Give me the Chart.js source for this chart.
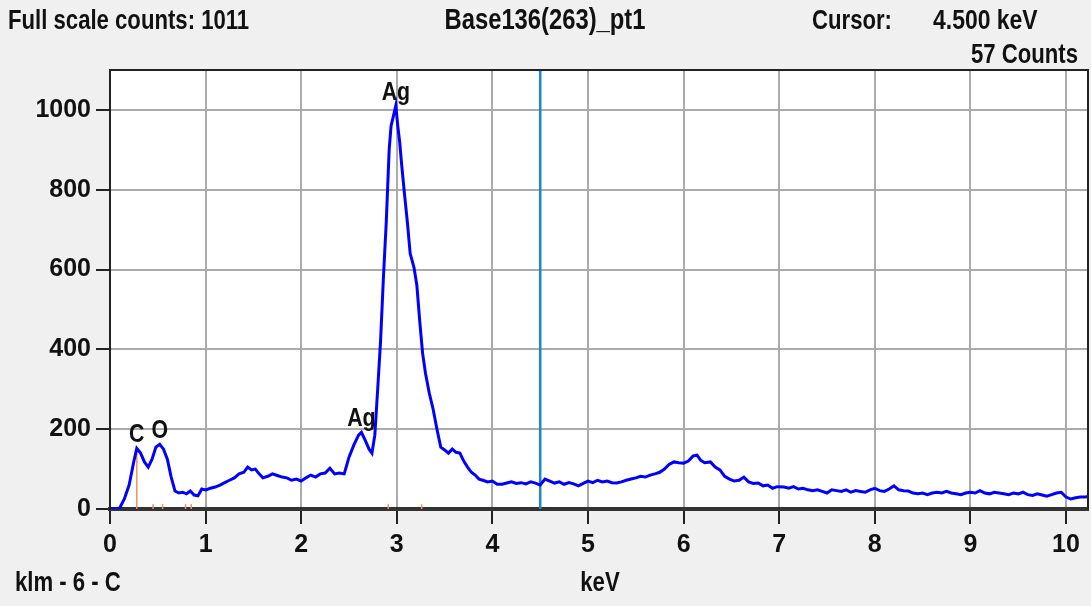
<!DOCTYPE html>
<html>
<head>
<meta charset="utf-8">
<script src="https://cdn.jsdelivr.net/npm/chart.js"></script>
<style>
  html, body { margin: 0; padding: 0; background: #f0f0f0; }
  canvas { display: block; }
</style>
</head>
<body>
<canvas id="graph" width="1091" height="606"></canvas>
<script>
// spectrum (keV / counts)
const energies = [
  0.00, 0.05, 0.10, 0.15, 0.20, 0.25, 0.28, 0.32, 0.36, 0.40, 0.44, 0.48, 0.52, 0.56, 0.60, 0.64, 0.68, 0.72, 0.76, 0.80,
  0.84, 0.88, 0.92, 0.96, 1.00, 1.05, 1.10, 1.15, 1.20, 1.25, 1.30, 1.35, 1.40, 1.44, 1.48, 1.52, 1.56, 1.60, 1.65, 1.70,
  1.75, 1.80, 1.85, 1.90, 1.95, 2.00, 2.05, 2.10, 2.15, 2.20, 2.25, 2.30, 2.35, 2.40, 2.45, 2.50, 2.55, 2.60, 2.63, 2.67,
  2.71, 2.74, 2.77, 2.80, 2.83, 2.86, 2.89, 2.92, 2.94, 2.97, 2.99, 3.01, 3.03, 3.05, 3.08, 3.11, 3.14, 3.18, 3.21, 3.24,
  3.27, 3.30, 3.34, 3.38, 3.42, 3.46, 3.50, 3.54, 3.58, 3.62, 3.66, 3.70, 3.74, 3.78, 3.82, 3.86, 3.90, 3.95, 4.00, 4.05,
  4.10, 4.15, 4.20, 4.25, 4.30, 4.35, 4.40, 4.45, 4.50, 4.55, 4.60, 4.65, 4.70, 4.75, 4.80, 4.85, 4.90, 4.95, 5.00, 5.05,
  5.10, 5.15, 5.20, 5.25, 5.30, 5.35, 5.40, 5.45, 5.50, 5.55, 5.60, 5.65, 5.70, 5.75, 5.80, 5.85, 5.90, 5.95, 6.00, 6.05,
  6.10, 6.14, 6.18, 6.22, 6.28, 6.33, 6.38, 6.43, 6.48, 6.53, 6.58, 6.63, 6.68, 6.73, 6.78, 6.83, 6.88, 6.93, 6.98, 7.05,
  7.10, 7.15, 7.20, 7.25, 7.30, 7.35, 7.40, 7.45, 7.50, 7.55, 7.60, 7.65, 7.70, 7.75, 7.80, 7.85, 7.90, 7.95, 8.00, 8.05,
  8.10, 8.15, 8.20, 8.25, 8.30, 8.35, 8.40, 8.45, 8.50, 8.55, 8.60, 8.65, 8.70, 8.75, 8.80, 8.85, 8.90, 8.95, 9.00, 9.05,
  9.10, 9.15, 9.20, 9.25, 9.30, 9.35, 9.40, 9.45, 9.50, 9.55, 9.60, 9.65, 9.70, 9.75, 9.80, 9.85, 9.90, 9.95, 10.00, 10.05,
  10.10, 10.15, 10.20, 10.25
];
const counts = [
  0, 0, 2, 25, 60, 120, 152, 140, 118, 105, 125, 155, 162, 150, 125, 80, 45, 40, 42, 38,
  45, 35, 33, 50, 48, 52, 55, 60, 66, 72, 78, 88, 92, 105, 98, 100, 88, 78, 82, 88,
  84, 80, 78, 72, 75, 70, 78, 85, 80, 88, 90, 102, 88, 90, 88, 130, 160, 185, 192, 172,
  150, 140, 185, 300, 420, 580, 720, 900, 960, 990, 1011, 960, 920, 865, 790, 720, 640, 605, 560, 470,
  390, 340, 290, 250, 200, 155, 148, 140, 150, 142, 140, 120, 105, 92, 85, 75, 72, 68, 70, 62,
  62, 65, 68, 64, 66, 63, 68, 65, 60, 75, 70, 65, 68, 62, 66, 63, 58, 64, 70, 66,
  72, 68, 70, 66, 65, 68, 72, 75, 78, 82, 80, 85, 88, 92, 100, 112, 118, 116, 115, 120,
  133, 135, 122, 116, 118, 105, 98, 82, 75, 70, 72, 80, 68, 64, 65, 58, 60, 52, 56, 55,
  52, 56, 50, 52, 48, 46, 48, 44, 40, 48, 46, 44, 48, 42, 46, 44, 42, 48, 52, 46,
  44, 50, 58, 48, 46, 45, 40, 38, 40, 36, 40, 42, 40, 44, 40, 38, 36, 40, 42, 40,
  46, 40, 38, 42, 40, 38, 36, 40, 38, 42, 36, 34, 38, 35, 32, 36, 40, 42, 30, 25,
  28, 30, 30, 32
];

// element marker lines (orange) and peak labels
const markerKeV = [0.28, 0.45, 0.55, 0.79, 0.85, 2.91, 3.26];
const markerHeight = [152, 12, 12, 12, 12, 12, 12];
const peakNames = ['C', 'O', 'Ag', 'Ag'];
const peakKeV = [0.28, 0.52, 2.63, 2.99];

const xTicks = [0, 1, 2, 3, 4, 5, 6, 7, 8, 9, 10];
const yTicks = [0, 200, 400, 600, 800, 1000];
const cursorKeV = 4.5;
const cursorCounts = 57;

const FONT = '"Liberation Sans", Arial, sans-serif';

const spectrum = energies.map((e, i) => ({ x: e, y: counts[i] }));

const datasets = [
  {
    data: spectrum,
    borderColor: '#0000ff',
    borderWidth: 3,
    pointRadius: 0,
    tension: 0
  },
  {
    data: [{ x: cursorKeV, y: 0 }, { x: cursorKeV, y: 1100 }],
    borderColor: '#1c88c8',
    borderWidth: 2.5,
    pointRadius: 0
  }
];
markerKeV.forEach((e, i) => {
  datasets.push({
    data: [{ x: e, y: 0 }, { x: e, y: markerHeight[i] }],
    borderColor: '#f4905a',
    borderWidth: 1.5,
    pointRadius: 0
  });
});

// narrow bold text: squeeze Liberation Sans horizontally
function narrowText(ctx, text, x, y, align, size) {
  ctx.save();
  ctx.font = 'bold ' + size + 'px ' + FONT;
  ctx.textAlign = align;
  ctx.textBaseline = 'alphabetic';
  ctx.translate(x, y);
  ctx.scale(0.82, 1);
  ctx.fillText(text, 0, 0);
  ctx.restore();
}

const frame = {
  id: 'frame',
  beforeDraw(chart) {
    const { ctx, chartArea: a } = chart;
    ctx.save();
    ctx.fillStyle = '#f0f0f0';
    ctx.fillRect(0, 0, chart.width, chart.height);
    ctx.fillStyle = '#ffffff';
    ctx.fillRect(a.left, a.top, a.right - a.left, a.bottom - a.top);
    ctx.restore();
  },
  afterDraw(chart) {
    const { ctx, chartArea: a, scales } = chart;
    ctx.save();
    // top and right edge of the plot box
    ctx.strokeStyle = '#222';
    ctx.lineWidth = 2;
    ctx.beginPath();
    ctx.moveTo(a.left, a.top);
    ctx.lineTo(a.right, a.top);
    ctx.lineTo(a.right, a.bottom);
    ctx.stroke();
    ctx.fillStyle = '#111';

    // peak labels sit just above the peak they name
    peakNames.forEach((name, i) => {
      let best = 0;
      energies.forEach((e, j) => {
        if (Math.abs(e - peakKeV[i]) < Math.abs(energies[best] - peakKeV[i])) best = j;
      });
      const px = scales.x.getPixelForValue(peakKeV[i]);
      const py = scales.y.getPixelForValue(counts[best]);
      narrowText(ctx, name, px, py - 6, 'center', 26);
    });

    // header
    narrowText(ctx, 'Full scale counts: ' + Math.max(...counts), 8, 29, 'left', 27);
    narrowText(ctx, 'Base136(263)_pt1', 545, 29, 'center', 29);
    narrowText(ctx, 'Cursor:', 812, 29, 'left', 27);
    narrowText(ctx, cursorKeV.toFixed(3) + ' keV', 933, 29, 'left', 28);
    narrowText(ctx, cursorCounts + ' Counts', 1078, 63, 'right', 27);

    // footer
    narrowText(ctx, 'klm - 6 - C', 15, 591, 'left', 27);
    narrowText(ctx, 'keV', 600, 591, 'center', 27);
    ctx.restore();
  }
};

new Chart(document.getElementById('graph'), {
  type: 'line',
  data: { datasets },
  plugins: [frame],
  options: {
    responsive: false,
    devicePixelRatio: 1,
    animation: false,
    layout: { padding: { left: 0, top: 70, right: 3, bottom: 0 } },
    plugins: { legend: { display: false }, tooltip: { enabled: false } },
    scales: {
      x: {
        type: 'linear',
        min: 0,
        max: 10.23,
        afterFit: s => { s.height = 97; },
        afterBuildTicks: s => { s.ticks = xTicks.map(v => ({ value: v })); },
        ticks: {
          font: { family: FONT, size: 25, weight: 'bold' }, color: '#111', padding: 6, maxRotation: 0,
          callback: v => String(v)
        },
        grid: { color: '#ababab', lineWidth: 2, tickLength: 15, tickColor: '#222', tickWidth: 2 },
        border: { color: '#333', width: 4 }
      },
      y: {
        min: 0,
        max: 1100,
        afterFit: s => { s.width = 110; },
        afterBuildTicks: s => { s.ticks = yTicks.map(v => ({ value: v })); },
        ticks: {
          font: { family: FONT, size: 25, weight: 'bold' }, color: '#111', padding: 5,
          callback: v => String(v)
        },
        grid: { color: '#ababab', lineWidth: 2, tickLength: 14, tickColor: '#222', tickWidth: 2 },
        border: { color: '#222', width: 2 }
      }
    }
  }
});
</script>
</body>
</html>
